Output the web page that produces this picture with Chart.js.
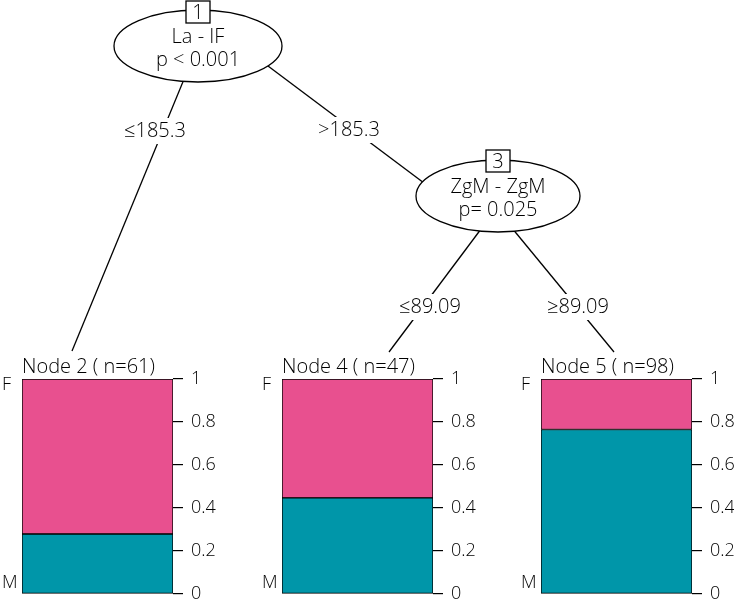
<!DOCTYPE html>
<html>
<head>
<meta charset="utf-8">
<script src="https://cdn.jsdelivr.net/npm/chart.js@4"></script>
<style>
    body { margin: 0; background: #fff; width: 734px; height: 605px; position: relative; overflow: hidden; }
    canvas { position: absolute; }
</style>
</head>
<body>
<canvas id="tree" width="734" height="605" style="left:0;top:0"></canvas>
<script>
// terminal nodes
const nodeIds = [2, 4, 5];
const nodeN = [61, 47, 98];
const propM = [0.279, 0.447, 0.765]; // bottom part (teal)
const propF = [0.721, 0.553, 0.235]; // top part (pink)
const yTicks = [0, 0.2, 0.4, 0.6, 0.8, 1];

// inner nodes and edges
const innerIds = [1, 3];
const innerVars = ['La - IF', 'ZgM - ZgM'];
const innerP = ['p < 0.001', 'p= 0.025'];
const edgeLabels = ['\u2264185.3', '>185.3', '\u226489.09', '\u226589.09'];

const PINK = '#E8508F';
const TEAL = '#0096A9';
const FONT = '"Open Sans", "Liberation Sans", sans-serif';

// Draw the tree part (edges, ellipses, node numbers)
const tc = document.getElementById('tree').getContext('2d');
tc.strokeStyle = '#000';
tc.lineWidth = 1.3;

function line(x1, y1, x2, y2) {
    tc.beginPath();
    tc.moveTo(x1, y1);
    tc.lineTo(x2, y2);
    tc.stroke();
}

function label(txt, x, y) {
    tc.font = '300 20px ' + FONT;
    const w = tc.measureText(txt).width + 4;
    tc.fillStyle = '#fff';
    tc.fillRect(x - w / 2, y - 13, w, 26);
    tc.fillStyle = '#000';
    tc.textAlign = 'center';
    tc.textBaseline = 'middle';
    tc.fillText(txt, x, y);
}

function innerNode(k, cx, cy, rx, ry, bx, by) {
    tc.beginPath();
    tc.ellipse(cx, cy, rx, ry, 0, 0, Math.PI * 2);
    tc.fillStyle = '#fff';
    tc.fill();
    tc.stroke();
    tc.fillStyle = '#000';
    tc.textAlign = 'center';
    tc.textBaseline = 'middle';
    tc.font = '300 20px ' + FONT;
    tc.fillText(innerVars[k], cx, cy - 9);
    tc.fillText(innerP[k], cx, cy + 14);
    // node number box
    tc.fillStyle = '#fff';
    tc.fillRect(bx - 12, by - 11, 24, 22);
    tc.strokeRect(bx - 12, by - 11, 24, 22);
    tc.fillStyle = '#000';
    tc.fillText(String(innerIds[k]), bx, by + 1);
}

// edges
line(194, 55, 72, 351);
line(240, 45, 440, 195);
line(499, 205, 389, 352);
line(493, 205, 614, 352);
label(edgeLabels[0], 155, 131);
label(edgeLabels[1], 349, 130);
label(edgeLabels[2], 430, 307);
label(edgeLabels[3], 578, 307);

innerNode(0, 198, 46, 84, 36, 198, 12);
innerNode(1, 498, 196, 82, 36, 498, 161);

// Terminal node panels
const BAR_LEFT = [22, 282, 541];
const BAR_W = 151;

const panelDecor = {
    id: 'panelDecor',
    afterDraw(chart) {
        const ctx = chart.ctx;
        const a = chart.chartArea;
        const i = chart.options.nodeIndex;
        ctx.save();
        ctx.fillStyle = '#000';
        ctx.font = '300 20px ' + FONT;
        ctx.textAlign = 'left';
        ctx.textBaseline = 'middle';
        ctx.fillText('Node ' + nodeIds[i] + ' ( n=' + nodeN[i] + ')', a.left, a.top - 12);
        ctx.font = '300 18px ' + FONT;
        ctx.fillText('F', 2, a.top + 6);
        ctx.fillText('M', 2, a.bottom - 11);
        ctx.restore();
    }
};

function makePanel(i) {
    const cv = document.createElement('canvas');
    cv.width = 22 + BAR_W + 60;
    cv.height = 260;
    cv.style.left = (BAR_LEFT[i] - 22) + 'px';
    cv.style.top = '345px';
    document.body.appendChild(cv);
    return new Chart(cv, {
        type: 'bar',
        data: {
            labels: ['Node ' + nodeIds[i]],
            datasets: [
                { label: 'M', data: [propM[i]], backgroundColor: TEAL, borderColor: '#000', borderWidth: 1, borderSkipped: false, barPercentage: 1, categoryPercentage: 1 },
                { label: 'F', data: [propF[i]], backgroundColor: PINK, borderColor: '#000', borderWidth: 1, borderSkipped: false, barPercentage: 1, categoryPercentage: 1 }
            ]
        },
        options: {
            nodeIndex: i,
            responsive: false,
            animation: false,
            layout: { padding: { left: 22, top: 34, bottom: 11, right: 0 } },
            plugins: { legend: { display: false }, tooltip: { enabled: false } },
            scales: {
                x: { stacked: true, display: false },
                y: {
                    stacked: true,
                    position: 'right',
                    min: 0,
                    max: 1,
                    afterFit: s => { s.width = 60; s.paddingTop = 0; s.paddingBottom = 0; },
                    afterBuildTicks: s => { s.ticks = yTicks.map(v => ({ value: v })); },
                    ticks: {
                        color: '#000',
                        padding: 8,
                        font: { family: FONT, size: 18, weight: 300 },
                        callback: v => String(+v.toFixed(1))
                    },
                    grid: { drawOnChartArea: false, tickLength: 10, color: '#000', lineWidth: 1.2 },
                    border: { display: false }
                }
            }
        },
        plugins: [panelDecor]
    });
}

nodeIds.forEach((id, i) => makePanel(i));
</script>
</body>
</html>
